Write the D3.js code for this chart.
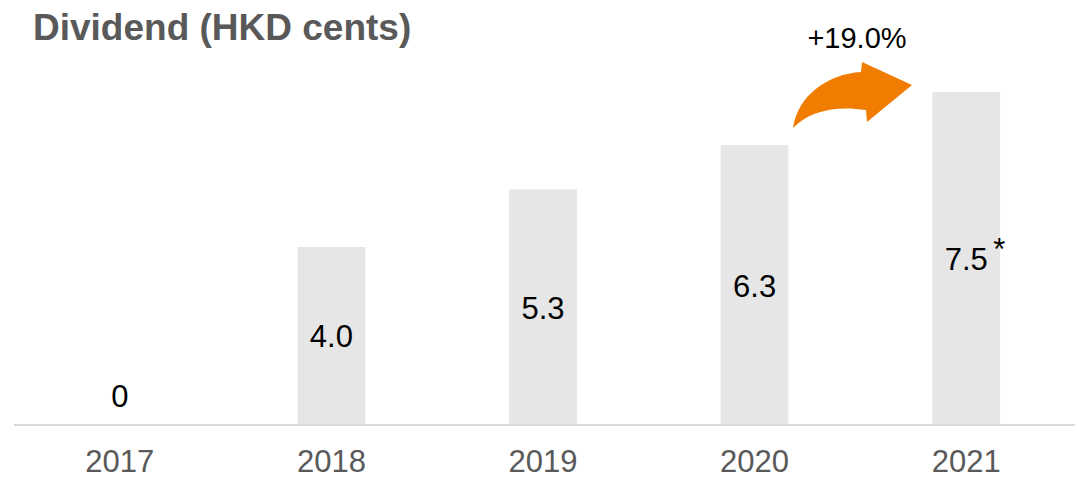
<!DOCTYPE html>
<html><head><meta charset="utf-8">
<script src="https://cdn.jsdelivr.net/npm/d3@7"></script>
<style>body{margin:0;background:#fff}svg{display:block;font-family:"Liberation Sans",Arial,sans-serif}</style>
</head><body>
<svg id="c" width="1077" height="480"></svg>
<script>
const categories = ["2017","2018","2019","2020","2021"];
const values = [0, 4.0, 5.3, 6.3, 7.5];
const valueLabels = ["0","4.0","5.3","6.3","7.5"];
const growthLabel = "+19.0%";
const title = "Dividend (HKD cents)";

const svg = d3.select("#c");
const baseline = 424;
const x = d3.scaleBand().domain(categories).range([14, 1072]).paddingInner(0.68).paddingOuter(0.34);
const y = d3.scaleLinear().domain([0, 7.5]).range([baseline, 92]);

svg.append("text").attr("x", 33).attr("y", 40).attr("font-size", 37).attr("font-weight", "bold")
  .attr("fill", "#595959").text(title);

svg.selectAll("rect.bar").data(values).join("rect").attr("class","bar")
  .attr("x", (d,i) => x(categories[i])).attr("width", x.bandwidth())
  .attr("y", d => y(d)).attr("height", d => baseline - y(d)).attr("fill", "#e6e6e6");

// axis line
svg.append("line").attr("x1", 14).attr("x2", 1075).attr("y1", baseline + 1).attr("y2", baseline + 1)
  .attr("stroke", "#d9d9d9").attr("stroke-width", 2);

const xAxis = d3.axisBottom(x).tickSize(0).tickPadding(0);
const gx = svg.append("g").attr("transform", `translate(0,${baseline})`).call(xAxis);
gx.select(".domain").remove();
gx.selectAll("text").attr("font-size", 31).attr("fill", "#595959").attr("dy", null).attr("y", 48)
  .attr("font-family", '"Liberation Sans",Arial,sans-serif');

svg.selectAll("text.val").data(values).join("text").attr("class","val")
  .attr("x", (d,i) => x(categories[i]) + x.bandwidth()/2)
  .attr("y", d => d === 0 ? baseline - 17 : y(d/2) + 12)
  .attr("text-anchor", "middle").attr("font-size", 31).attr("fill", "#000")
  .text((d,i) => valueLabels[i]);

// asterisk
const last = categories[categories.length-1];
svg.append("text").attr("x", x(last) + x.bandwidth()/2 + 33).attr("y", y(values[4]/2) + 2)
  .attr("text-anchor","middle").attr("font-size", 31).attr("fill","#000").text("*");

// growth label and arrow
svg.append("text").attr("x", 857).attr("y", 48).attr("text-anchor","middle")
  .attr("font-size", 29).attr("fill","#000").text(growthLabel);

svg.append("path")
  .attr("d", "M793,128 C798,95 828,74 861,72 L862,62 L912,85 L867,122 L866,110 C834,105 808,112 793,128 Z")
  .attr("fill", "#f07c00");
</script>
</body></html>
